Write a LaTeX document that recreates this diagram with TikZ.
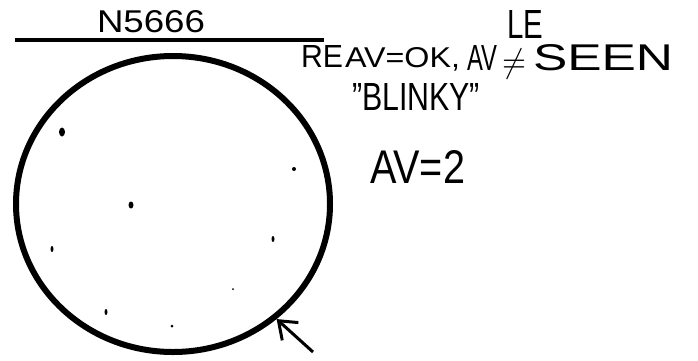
\documentclass[tikz,border=0pt]{standalone}
\usepackage{fontspec}
\setmainfont{Liberation Sans}
\usepackage{graphicx}
\usetikzlibrary{arrows.meta,shapes.geometric}
\tikzset{
 hand/.style={inner sep=0pt, outer sep=0pt, anchor=base west, text=black},
 speck/.style={ellipse, fill=black, draw=none, inner sep=0pt},
 fov/.style={ellipse, draw=black, line width=6pt, minimum width=314pt, minimum height=296pt, inner sep=0pt},
 pointer/.style={line width=3pt, -{Straight Barb[length=16pt,width=24pt]}},
 hrule/.style={line width=4pt}
}
\newcommand{\hw}[3]{\resizebox{#1}{#2}{#3}}
\begin{document}
\begin{tikzpicture}[x=1pt,y=-1pt]
\useasboundingbox (0,0) rectangle (698,360);
\node[fov] (fov) at (173,204) {};
\coordinate (ruleL) at (15,40);
\coordinate (ruleR) at (324,40);
\draw[hrule] (ruleL) -- (ruleR);
\node[hand] (name) at (97,32) {\hw{108pt}{22pt}{N5666}};
\node[hand] (re) at (301,67) {\hw{42pt}{22pt}{RE}};
\node[hand] (avok) at (345,67) {\hw{115pt}{20pt}{AV=OK,}};
\node[hand] (av) at (467,70) {\hw{30pt}{25pt}{AV}};
\node[inner sep=0pt, outer sep=0pt] (ne) at (514,64) {\resizebox*{24pt}{30pt}{\(\neq\)}};
\node[hand] (seen) at (533,70) {\hw{140pt}{26pt}{SEEN}};
\node[hand] (le) at (507,38) {\hw{36pt}{28pt}{LE}};
\node[hand] (blinky) at (352,110) {\hw{128pt}{27pt}{"BLINKY"}};
\node[hand] (av2) at (370,183) {\hw{95pt}{33pt}{AV=2}};
\node[speck, minimum width=6pt, minimum height=9pt] (s1) at (62,132) {};
\node[speck, minimum width=4pt, minimum height=4pt] (s2) at (294,169) {};
\node[speck, minimum width=5pt, minimum height=7pt] (s3) at (131,205) {};
\node[speck, minimum width=3pt, minimum height=6pt] (s4) at (52,249) {};
\node[speck, minimum width=3pt, minimum height=6pt] (s5) at (273,239) {};
\node[speck, minimum width=2pt, minimum height=2pt] (s6) at (233,289) {};
\node[speck, minimum width=3pt, minimum height=6pt] (s7) at (106,312) {};
\node[speck, minimum width=3pt, minimum height=3pt] (s8) at (172,326) {};
\coordinate (tail) at (313,352);
\draw[pointer] (tail) -- (fov.-48);
\end{tikzpicture}
\end{document}
